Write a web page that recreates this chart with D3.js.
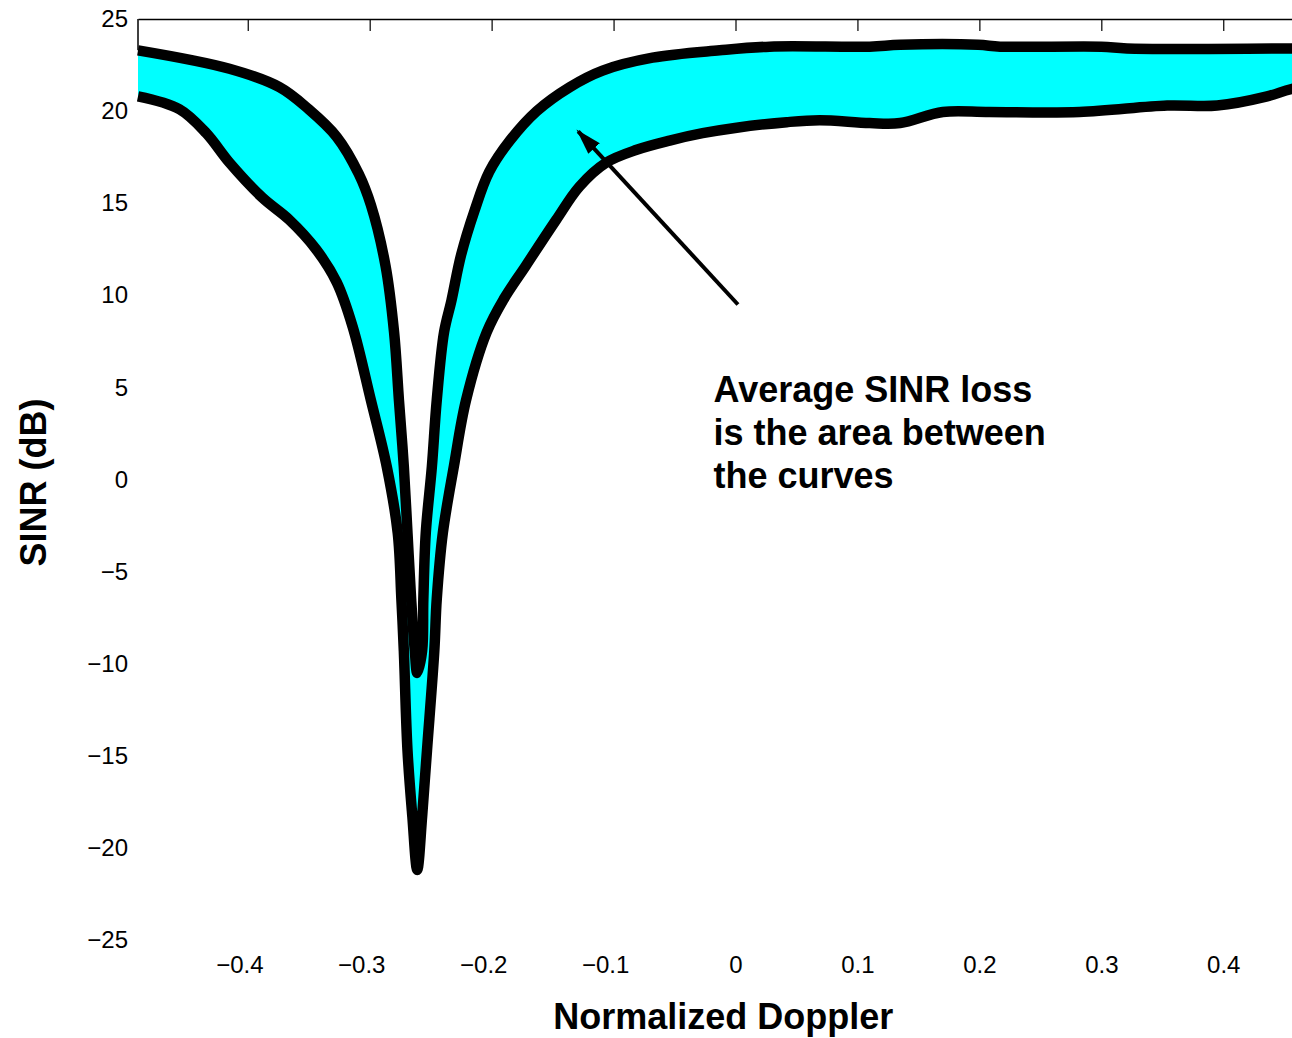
<!DOCTYPE html>
<html>
<head>
<meta charset="utf-8">
<script src="https://cdn.jsdelivr.net/npm/d3@7"></script>
<style>
  body { margin: 0; background: #fff; }
  svg { display: block; }
  .tick-label text { font-family: "Liberation Sans", Arial, Helvetica, sans-serif; font-size: 24px; fill: #000; }
  .bold-label { font-family: "Liberation Sans", Arial, Helvetica, sans-serif; font-weight: bold; fill: #000; }
</style>
</head>
<body>
<div class="graph"></div>
<script>
// Upper curve (optimum SINR)
var upperDoppler = [-0.490, -0.415, -0.374, -0.350, -0.327, -0.309, -0.299, -0.287, -0.280, -0.276,
    -0.272, -0.269, -0.266, -0.263, -0.261, -0.257, -0.256, -0.254, -0.249, -0.245,
    -0.239, -0.233, -0.225, -0.214, -0.202, -0.185, -0.163, -0.136, -0.109, -0.068,
    -0.013, 0.028, 0.110, 0.135, 0.199, 0.217, 0.300, 0.321, 0.456, 0.490];
var upperSinr = [23.3, 22.3, 21.3, 20.1, 18.6, 16.6, 14.9, 11.6, 8.0, 4.3,
    0.7, -2.9, -6.5, -9.3, -10.5, -9.3, -6.5, -2.9, 0.7, 4.3,
    8.0, 9.7, 12.2, 14.6, 16.7, 18.4, 20.0, 21.3, 22.2, 22.9,
    23.3, 23.5, 23.5, 23.6, 23.6, 23.5, 23.5, 23.4, 23.4, 23.4];

// Lower curve (adaptive SINR)
var lowerDoppler = [-0.490, -0.456, -0.434, -0.415, -0.388, -0.366, -0.344, -0.327, -0.314, -0.299,
    -0.286, -0.277, -0.274, -0.272, -0.269, -0.265, -0.261, -0.257, -0.253, -0.247,
    -0.245, -0.240, -0.231, -0.221, -0.204, -0.190, -0.172, -0.147, -0.128, -0.106,
    -0.081, -0.054, -0.027, 0.001, 0.042, 0.069, 0.110, 0.135, 0.170, 0.208,
    0.282, 0.354, 0.395, 0.436, 0.456, 0.490];
var lowerSinr = [20.8, 20.1, 18.8, 17.2, 15.3, 14.1, 12.5, 10.7, 8.3, 4.3,
    0.7, -2.9, -6.5, -9.3, -14.7, -18.3, -21.2, -18.3, -14.7, -9.3,
    -6.5, -2.9, 0.7, 4.3, 8.0, 9.8, 11.6, 14.1, 15.9, 17.2,
    17.9, 18.4, 18.8, 19.1, 19.4, 19.5, 19.35, 19.35, 19.95, 19.95,
    19.95, 20.3, 20.3, 20.8, 21.2, 21.6];

var xTicks = [-0.4, -0.3, -0.2, -0.1, 0, 0.1, 0.2, 0.3, 0.4];
var yTicks = [-25, -20, -15, -10, -5, 0, 5, 10, 15, 20, 25];
var noteLines = ["Average SINR loss", "is the area between", "the curves"];

var margin = {top: 19, right: 0, bottom: 98, left: 138},
    width = 1195,
    height = 921;

var svg = d3.select(".graph").append("svg")
    .attr("width", 1292)
    .attr("height", 1038)
    .append("g")
    .attr("transform", "translate(" + margin.left + "," + margin.top + ")");

var xScale = d3.scaleLinear().domain([-0.49, 0.49]).range([0, width]);
var yScale = d3.scaleLinear().domain([-25, 25]).range([height, 0]);

var upper = upperDoppler.map(function(d, i) { return [d, upperSinr[i]]; });
var lower = lowerDoppler.map(function(d, i) { return [d, lowerSinr[i]]; });

var line = d3.line()
    .curve(d3.curveCatmullRom.alpha(0.5))
    .x(function(d) { return xScale(d[0]); })
    .y(function(d) { return yScale(d[1]); });

// short left stub of the box, behind the curves
svg.append("line")
    .attr("x1", 0).attr("x2", 0)
    .attr("y1", yScale(25)).attr("y2", yScale(upperSinr[0]))
    .attr("stroke", "#000").attr("stroke-width", 1.5);

// cyan band between the curves
svg.append("path")
    .attr("d", line(upper.concat(lower.slice().reverse())) + "Z")
    .attr("fill", "#00ffff")
    .attr("stroke", "none");

[upper, lower].forEach(function(s) {
    svg.append("path")
        .attr("d", line(s))
        .attr("fill", "none")
        .attr("stroke", "#000")
        .attr("stroke-width", 10.5)
        .attr("stroke-linejoin", "round");
});

// top box edge with inward ticks
var topAxis = svg.append("g")
    .call(d3.axisBottom(xScale).tickValues(xTicks).tickSize(12).tickSizeOuter(0).tickFormat(""));
topAxis.select(".domain").attr("stroke-width", 1.5);
topAxis.selectAll(".tick line").attr("stroke-width", 1.2);

// bottom tick labels (no axis line)
var xAxis = svg.append("g")
    .attr("class", "tick-label")
    .attr("transform", "translate(0," + height + ")")
    .call(d3.axisBottom(xScale).tickValues(xTicks).tickSize(0).tickPadding(16)
        .tickFormat(d3.format("~g")));
xAxis.select(".domain").remove();
// negative labels sit a little left of their tick in the original
xAxis.selectAll("text").attr("dx", function(d) { return d < 0 ? "-0.35em" : 0; });

// left tick labels (no axis line)
var yAxis = svg.append("g")
    .attr("class", "tick-label")
    .call(d3.axisLeft(yScale).tickValues(yTicks).tickSize(0).tickPadding(10)
        .tickFormat(d3.format("~g")));
yAxis.select(".domain").remove();

// axis titles
svg.append("text")
    .attr("class", "bold-label")
    .attr("text-anchor", "middle")
    .attr("x", xScale(-0.01))
    .attr("y", height + 89)
    .attr("font-size", "36px")
    .text("Normalized Doppler");

svg.append("text")
    .attr("class", "bold-label")
    .attr("text-anchor", "middle")
    .attr("transform", "translate(-92," + (height / 2 + 3) + ")rotate(-90)")
    .attr("font-size", "36px")
    .text("SINR (dB)");

// annotation arrow
var defs = d3.select("svg").append("defs");
defs.append("marker")
    .attr("id", "head")
    .attr("viewBox", "0 0 10 10")
    .attr("refX", 9).attr("refY", 5)
    .attr("markerWidth", 6.5).attr("markerHeight", 6.5)
    .attr("markerUnits", "strokeWidth")
    .attr("orient", "auto")
    .append("path")
    .attr("d", "M0,2L10,5L0,8Z")
    .attr("fill", "#000");

svg.append("line")
    .attr("x1", xScale(0.002)).attr("y1", yScale(9.5))
    .attr("x2", xScale(-0.129)).attr("y2", yScale(18.9))
    .attr("stroke", "#000")
    .attr("stroke-width", 4)
    .attr("marker-end", "url(#head)");

var note = svg.append("text")
    .attr("class", "bold-label")
    .attr("font-size", "36px")
    .attr("x", xScale(-0.018))
    .attr("y", yScale(4.2));
note.selectAll("tspan")
    .data(noteLines)
    .enter()
    .append("tspan")
    .attr("x", xScale(-0.018))
    .attr("dy", function(d, i) { return i === 0 ? 0 : 43; })
    .text(function(d) { return d; });
</script>
</body>
</html>
